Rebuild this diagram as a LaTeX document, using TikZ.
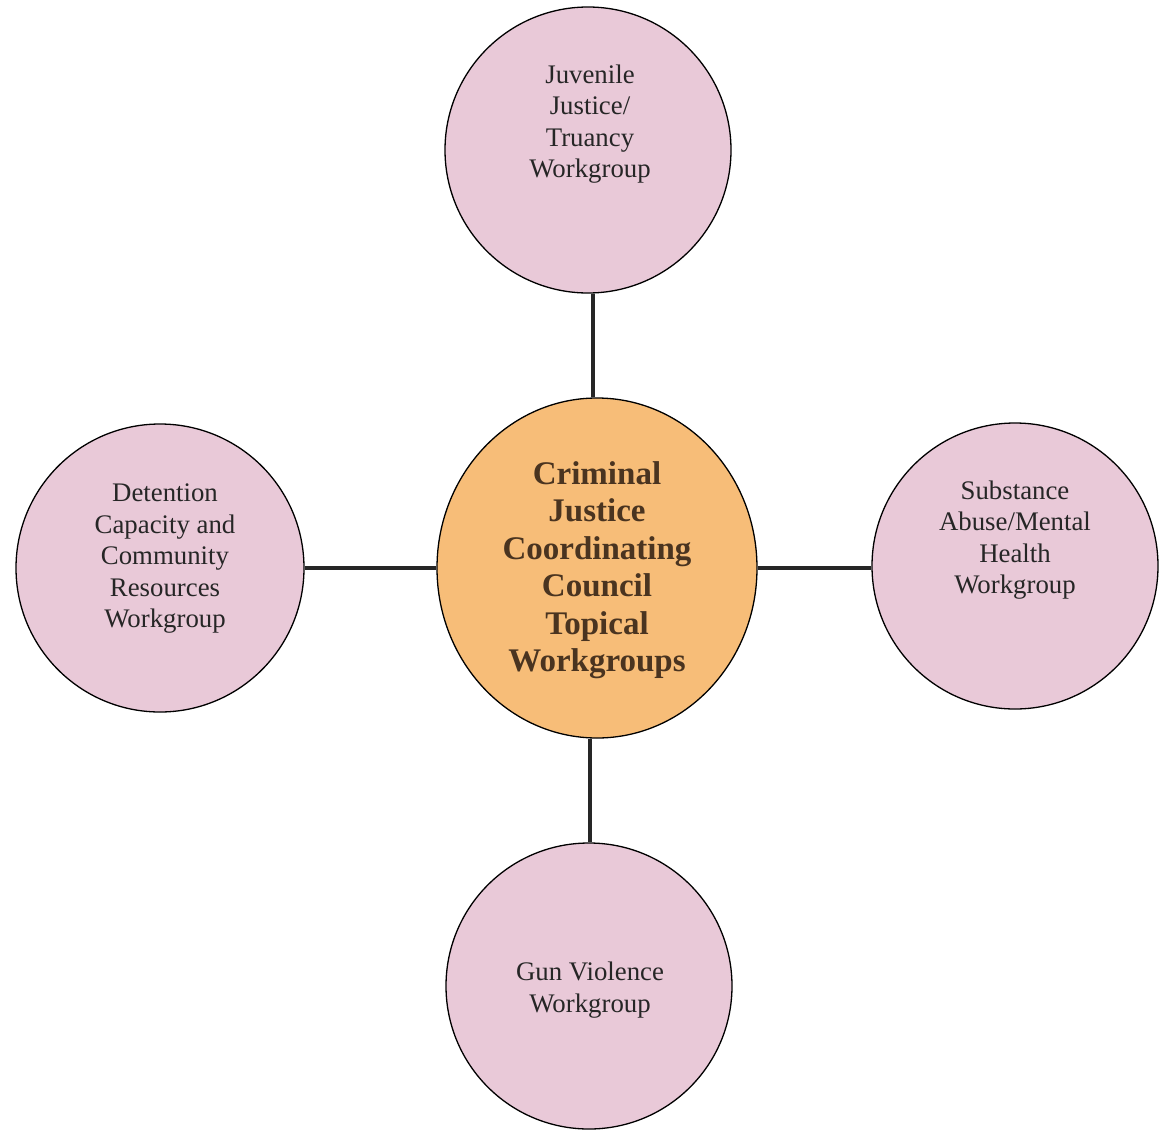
\documentclass[tikz,border=0pt]{standalone}
\usepackage{fontspec}
\setmainfont{Liberation Serif}
\usetikzlibrary{shapes.geometric}
\definecolor{pinkfill}{HTML}{E9C9D8}
\definecolor{orangefill}{HTML}{F7BD78}
\definecolor{browntext}{HTML}{4A3420}
\begin{document}
\begin{tikzpicture}[x=1pt,y=-1pt,
  wg/.style={circle,draw=black,line width=1.3pt,fill=pinkfill,minimum size=286pt,inner sep=0pt},
  wgtext/.style={align=center,font=\fontsize{26.8}{31.5}\selectfont,text=black!85},
  hub/.style={ellipse,draw=black,line width=1.3pt,fill=orangefill,minimum width=320pt,minimum height=340pt,inner sep=0pt},
  hubtext/.style={align=center,font=\bfseries\fontsize{33}{37.5}\selectfont,text=browntext},
  link/.style={line width=3.5pt,black!85}]
\useasboundingbox (0,0) rectangle (1159,1130);
\fill[white] (0,0) rectangle (1159,1130);
% circles
\node[hub] (hub) at (597,568) {};
\node[wg] (top) at (588,150) {};
\node[wg,minimum size=288pt] (left) at (160,568) {};
\node[wg] (right) at (1015,566) {};
\node[wg] (bot) at (589,986) {};
% connectors
\draw[link] (top.south -| 593,0) -- (hub.north -| 593,0);
\draw[link] (hub.south -| 590,0) -- (bot.north -| 590,0);
\draw[link] (left.east |- 0,568) -- (hub.west |- 0,568);
\draw[link] (hub.east |- 0,568) -- (right.west |- 0,568);
% texts
\node[hubtext] (hubt) at (597,570) {Criminal\\Justice\\Coordinating\\Council\\Topical\\Workgroups};
\node[wgtext] (topt) at (590,124) {Juvenile\\Justice/\\Truancy\\Workgroup};
\node[wgtext] (leftt) at (165,559) {Detention\\Capacity and\\Community\\Resources\\Workgroup};
\node[wgtext] (rightt) at (1015,540) {Substance\\Abuse/Mental\\Health\\Workgroup};
\node[wgtext] (bott) at (590,990) {Gun Violence\\Workgroup};
\end{tikzpicture}
\end{document}
